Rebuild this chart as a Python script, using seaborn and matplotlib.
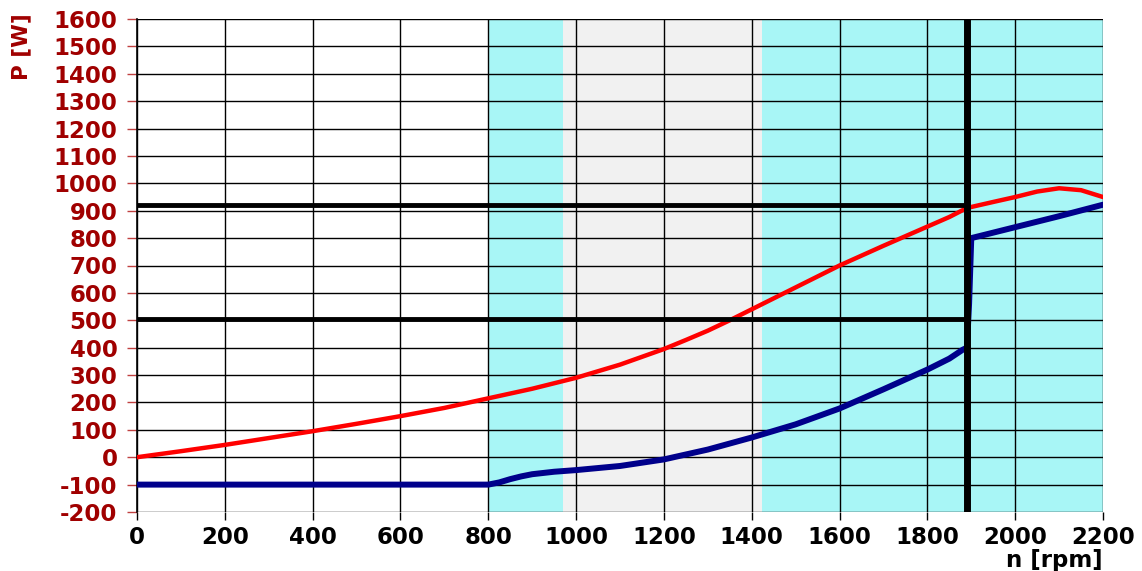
import matplotlib
matplotlib.use("Agg")
import matplotlib.pyplot as plt
import seaborn as sns
import pandas as pd

sns.set_theme(style="white")
plt.rcParams['font.family'] = ['DejaVu Sans']
plt.rcParams['axes.unicode_minus'] = False

# Data
red_rpm = [0, 100, 200, 300, 400, 500, 600, 700, 800, 900, 1000, 1100, 1200, 1250, 1300, 1350,
           1400, 1500, 1600, 1700, 1800, 1850, 1890, 1950, 2000, 2050, 2100, 2150, 2200]
red_p = [0, 22, 45, 70, 95, 122, 150, 180, 215, 250, 290, 338, 395, 428, 462, 500,
         540, 620, 700, 772, 842, 877, 910, 932, 950, 970, 982, 975, 950]

blue_rpm = [0, 200, 400, 600, 800, 825, 850, 875, 900, 950, 1000, 1100, 1200, 1300, 1400, 1500,
            1600, 1700, 1800, 1850, 1880, 1890, 1895, 1900, 2000, 2100, 2200]
blue_p = [-100, -100, -100, -100, -100, -92, -80, -70, -62, -53, -47, -32, -8, 28, 72, 120,
          178, 248, 320, 360, 392, 400, 560, 800, 840, 880, 922]

cyan_bands = [(800, 970), (1423, 2200)]
grey_bands = [(970, 1423)]
ref_rpm = 1890
ref_levels = [920, 505]

x_ticks = list(range(0, 2201, 200))
y_ticks = list(range(-200, 1601, 100))

fig = plt.figure(figsize=(11.42, 5.71), dpi=100)
ax = fig.add_axes([137/1142, 1-512/571, (1103-137)/1142, (512-19)/571])

for a, b in cyan_bands:
    ax.axvspan(a, b, color="#a8f6f6", lw=0, zorder=0)
for a, b in grey_bands:
    ax.axvspan(a, b, color="#f1f1f1", lw=0, zorder=0)

ax.set_xlim(0, 2200)
ax.set_ylim(-200, 1600)
ax.set_xticks(x_ticks)
ax.set_yticks(y_ticks)
ax.grid(True, color="black", lw=1.0, zorder=1)
ax.set_axisbelow(True)

df_red = pd.DataFrame({"n": red_rpm, "P": red_p})
df_blue = pd.DataFrame({"n": blue_rpm, "P": blue_p})
sns.lineplot(data=df_blue, x="n", y="P", ax=ax, color="#00008b", lw=4.3, zorder=3)
sns.lineplot(data=df_red, x="n", y="P", ax=ax, color="#ff0000", lw=3.2, zorder=4)

for lv in ref_levels:
    ax.plot([0, ref_rpm], [lv, lv], color="black", lw=3.5, zorder=5, solid_capstyle="butt")
ax.axvline(ref_rpm, color="black", lw=5, zorder=6)

ax.set_xlabel("")
ax.set_ylabel("")
for s in ["top", "right", "bottom"]:
    ax.spines[s].set_visible(False)
ax.spines["left"].set_color("black")
ax.spines["left"].set_linewidth(1.2)

ax.tick_params(axis="y", colors="#c04040", labelcolor="#a00000", length=7, width=1,
               pad=7, labelsize=16.5, direction="out", left=True)
ax.tick_params(axis="x", colors="black", labelcolor="black", length=6, width=1,
               pad=4, labelsize=16.5, direction="out", bottom=True)
for lab in ax.get_xticklabels() + ax.get_yticklabels():
    lab.set_fontweight("bold")

fig.text(21/1142, 1-47/571, "P [W]", rotation=90, color="#a00000", fontsize=15.5,
         fontweight="bold", ha="center", va="center")
fig.text(1103/1142, 1-560/571, "n [rpm]", color="black", fontsize=16.5,
         fontweight="bold", ha="right", va="center")

fig.savefig("out.png", dpi=100)
